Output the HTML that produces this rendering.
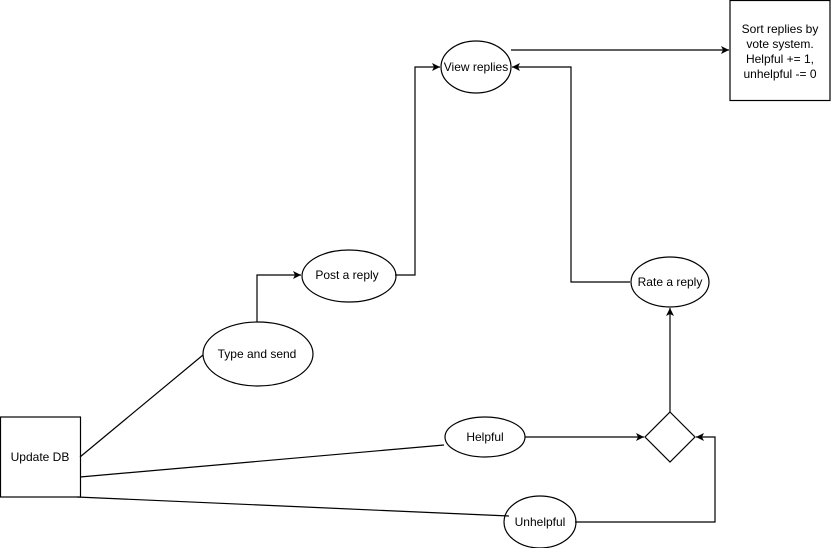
<!DOCTYPE html>
<html><head><style>body{margin:0;background:#fff}</style></head><body>
<svg width="832" height="548" xmlns="http://www.w3.org/2000/svg" font-family="Liberation Sans, sans-serif" font-size="12">
<defs><marker id="a" markerWidth="10" markerHeight="10" refX="9" refY="5" orient="auto" markerUnits="userSpaceOnUse"><path d="M1,1 L9,5 L1,9 L3,5 Z" fill="#000"/></marker></defs>
<g fill="none" stroke="#000" stroke-width="1.2">
<path d="M511,50 L729,50" marker-end="url(#a)"/>
<path d="M395,275 L415,275 L415,67 L440,67" marker-end="url(#a)"/>
<path d="M257,322 L257,275 L301,275" marker-end="url(#a)"/>
<path d="M630,282 L571,282 L571,67 L512,67" marker-end="url(#a)"/>
<path d="M670,412 L670,308" marker-end="url(#a)"/>
<path d="M525,437 L644,437" marker-end="url(#a)"/>
<path d="M575,522 L715,522 L715,437 L696,437" marker-end="url(#a)"/>
<path d="M80,457 L203,355"/>
<path d="M80,477 L444,445"/>
<path d="M77,497 L509,516"/>
<ellipse cx="476" cy="67" rx="35" ry="26"/>
<ellipse cx="349" cy="276" rx="47" ry="26"/>
<ellipse cx="258" cy="354" rx="55" ry="32"/>
<ellipse cx="670" cy="282" rx="39" ry="25"/>
<ellipse cx="485" cy="437" rx="40" ry="20"/>
<ellipse cx="540" cy="522" rx="36" ry="26"/>
<path d="M670,412 L695,437 L670,462 L645,437 Z"/>
<rect x="0.5" y="417" width="80" height="80"/>
<rect x="730" y="0.5" width="100" height="100"/>
</g>
<g text-anchor="middle" fill="#000">
<text x="476" y="71">View replies</text>
<text x="347" y="279">Post a reply</text>
<text x="257" y="358">Type and send</text>
<text x="670" y="286">Rate a reply</text>
<text x="485" y="441">Helpful</text>
<text x="540" y="526">Unhelpful</text>
<text x="40" y="461">Update DB</text>
<text x="780" y="33">Sort replies by</text>
<text x="780" y="48">vote system.</text>
<text x="780" y="63">Helpful += 1,</text>
<text x="780" y="78">unhelpful -= 0</text>
</g>
</svg>
</body></html>
